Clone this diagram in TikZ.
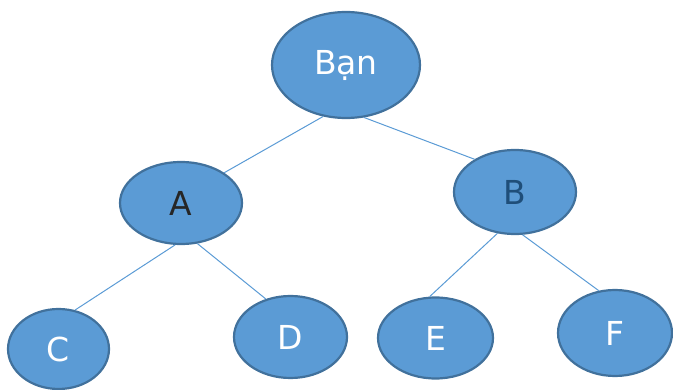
\documentclass[tikz,border=0pt]{standalone}
\usepackage{fontspec}
\setmainfont{DejaVu Sans}
\usetikzlibrary{shapes.geometric}
\definecolor{nodefill}{HTML}{5B9BD5}
\definecolor{nodeline}{HTML}{41719C}
\definecolor{linkcol}{HTML}{5B9BD5}
\definecolor{darktext}{HTML}{1F4E79}
\begin{document}
\begin{tikzpicture}[x=1pt,y=-1pt,
  person/.style={ellipse, draw=nodeline, fill=nodefill, line width=2.2pt,
    inner sep=0pt, text=white, font=\fontsize{33}{33}\selectfont},
  link/.style={draw=linkcol, line width=1pt}]
\useasboundingbox (0,0) rectangle (673,390);
% people
\node[person, minimum width=148, minimum height=106] (ban) at (346,65) {Bạn};
\node[person, minimum width=122, minimum height=82, text=black!85] (a) at (181,203) {A};
\node[person, minimum width=122, minimum height=84, text=darktext] (b) at (515,192) {B};
\node[person, minimum width=101, minimum height=80] (c) at (58.5,349) {C};
\node[person, minimum width=113, minimum height=82] (d) at (290.5,337) {D};
\node[person, minimum width=115, minimum height=81] (e) at (435.5,338) {E};
\node[person, minimum width=114, minimum height=86] (f) at (615,333) {F};
% links between them
\draw[link] (ban.246) -- (a.35);
\draw[link] (ban.289) -- (b.141);
\draw[link] (a.262) -- (c.67);
\draw[link] (a.292) -- (d.123);
\draw[link] (b.247) -- (e.98);
\draw[link] (b.280) -- (f.111);
\end{tikzpicture}
\end{document}
